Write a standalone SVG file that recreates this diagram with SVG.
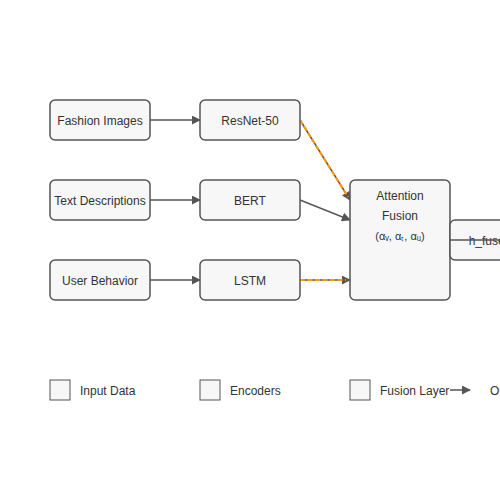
<svg xmlns="http://www.w3.org/2000/svg" width="500" height="500" viewBox="0 0 500 500">
<style>
.box{fill:#f7f7f7;stroke:#555;stroke-width:1.5}
.t{font-family:"Liberation Sans",Arial,sans-serif;font-size:12px;fill:#333}
.c{text-anchor:middle;dominant-baseline:central}
.ln{stroke:#555;stroke-width:1.5;fill:none}
.hl{stroke:#f90;stroke-width:2;stroke-dasharray:5,2.5;fill:none}
</style>
<defs>
<marker id="ah" viewBox="0 0 10 10" refX="9" refY="5" markerWidth="6" markerHeight="6" orient="auto"><path d="M0,0L10,5L0,10z" fill="#555"/></marker>
</defs>
<rect width="500" height="500" fill="#fff"/>
<g id="connectors">
<line class="ln" x1="150" y1="120" x2="200" y2="120" marker-end="url(#ah)"/>
<line class="ln" x1="150" y1="200" x2="200" y2="200" marker-end="url(#ah)"/>
<line class="ln" x1="150" y1="280" x2="200" y2="280" marker-end="url(#ah)"/>
<line class="ln" x1="300" y1="120" x2="350" y2="200" marker-end="url(#ah)"/>
<line class="hl" x1="300" y1="120" x2="348" y2="197"/>
<line class="ln" x1="300" y1="200" x2="350" y2="220" marker-end="url(#ah)"/>
<line class="ln" x1="300" y1="280" x2="350" y2="280" marker-end="url(#ah)"/>
<line class="hl" x1="300" y1="280" x2="346" y2="280"/>
</g>
<g id="fashion_images"><rect class="box" x="50" y="100" width="100" height="40" rx="5"/><text class="t c" x="100" y="121">Fashion Images</text></g>
<g id="text_descriptions"><rect class="box" x="50" y="180" width="100" height="40" rx="5"/><text class="t c" x="100" y="201">Text Descriptions</text></g>
<g id="user_behavior"><rect class="box" x="50" y="260" width="100" height="40" rx="5"/><text class="t c" x="100" y="281">User Behavior</text></g>
<g id="resnet"><rect class="box" x="200" y="100" width="100" height="40" rx="5"/><text class="t c" x="250" y="121">ResNet-50</text></g>
<g id="bert"><rect class="box" x="200" y="180" width="100" height="40" rx="5"/><text class="t c" x="250" y="201">BERT</text></g>
<g id="lstm"><rect class="box" x="200" y="260" width="100" height="40" rx="5"/><text class="t c" x="250" y="281">LSTM</text></g>
<g id="attention_fusion"><rect class="box" x="350" y="180" width="100" height="120" rx="5"/>
<text class="t c" x="400" y="196">Attention</text>
<text class="t c" x="400" y="216">Fusion</text>
<text class="t c" x="400" y="236" style="font-size:11px">(αᵥ, αₜ, αᵤ)</text></g>
<g id="h_fused"><rect class="box" x="450" y="220" width="80" height="40" rx="5"/><text class="t c" x="490" y="241">h_fused</text></g>
<line class="ln" x1="450" y1="240" x2="550" y2="240" marker-end="url(#ah)"/>
<g id="legend">
<rect class="box" x="50" y="380" width="20" height="20" style="stroke-width:1"/><text class="t" x="80" y="395">Input Data</text>
<rect class="box" x="200" y="380" width="20" height="20" style="stroke-width:1"/><text class="t" x="230" y="395">Encoders</text>
<rect class="box" x="350" y="380" width="20" height="20" style="stroke-width:1"/><text class="t" x="380" y="395">Fusion Layer</text>
<line class="ln" x1="450" y1="390" x2="470" y2="390" marker-end="url(#ah)"/>
<text class="t" x="490" y="395">Output</text>
</g>
</svg>
